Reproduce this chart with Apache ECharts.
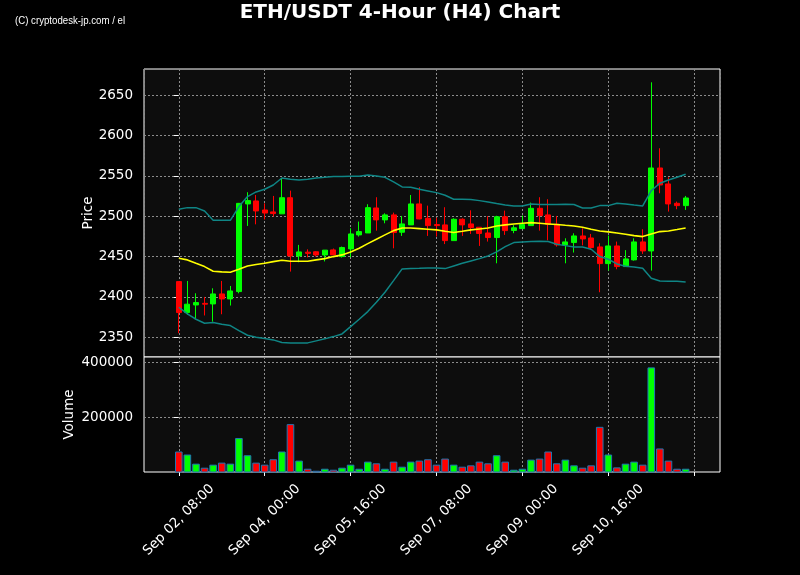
<!DOCTYPE html>
<html>
<head>
<meta charset="utf-8">
<script src="https://cdn.jsdelivr.net/npm/echarts@6/dist/echarts.min.js"></script>
<style>
  html, body { margin: 0; padding: 0; background: #000; }
  #chart { width: 800px; height: 575px; }
</style>
</head>
<body>
<div id="chart"></div>
<script>
// ---- Data (4-hour candles, index 0 = Sep 02 08:00) ----
const openVals = [2419, 2380.6, 2390, 2392, 2391.3, 2403.7, 2397.5, 2406.6, 2515.3, 2519,
  2507.8, 2505.4, 2503, 2523, 2450.8, 2455.5, 2456, 2452, 2458.3, 2450,
  2459.5, 2476.9, 2479.3, 2510.3, 2495.5, 2501.7, 2480.2, 2489.3, 2515.3, 2497.5,
  2489.7, 2489.3, 2469.8, 2496.3, 2490.5, 2486.4, 2479.3, 2473.6, 2499.4, 2482.4,
  2484.7, 2488.4, 2509.9, 2501.7, 2490.1, 2464.5, 2467.4, 2475.6, 2473.1, 2462,
  2441.3, 2463.2, 2437.6, 2445.9, 2468.2, 2457, 2559.9, 2540.1, 2516.1, 2513.2];
const closeVals = [2380.6, 2391, 2393, 2391, 2403.7, 2397.5, 2407.4, 2516, 2519.4, 2506.6,
  2504, 2503.3, 2523, 2450.8, 2455.8, 2454, 2452, 2458, 2452.1, 2461.2,
  2478.1, 2481, 2510.7, 2495.5, 2501.7, 2479.8, 2490.5, 2515.3, 2496.7, 2488.4,
  2488.4, 2469.8, 2496.3, 2489.3, 2486, 2478.7, 2473.6, 2499.4, 2482.2, 2485.7,
  2489.7, 2509.9, 2500.8, 2490.1, 2464.5, 2468.2, 2475.6, 2471.9, 2461.2, 2441.3,
  2463.2, 2437.6, 2447.1, 2468.2, 2457, 2559.9, 2538.8, 2515.3, 2513.2, 2522.7];
const lowVals = [2355, 2377.7, 2372, 2377, 2369.4, 2378.5, 2389.3, 2404.5, 2488, 2490,
  2496, 2499.6, 2503, 2431.4, 2443, 2449, 2450, 2444, 2452, 2448.8,
  2449.2, 2474.8, 2479.3, 2482.2, 2491.3, 2460.3, 2475.6, 2489.3, 2496.3, 2475.6,
  2474.8, 2465.5, 2469.8, 2475.6, 2478.1, 2463.2, 2468.6, 2441.7, 2476.9, 2479,
  2484.3, 2488.4, 2482.2, 2470.2, 2462.4, 2441.7, 2455, 2464, 2458.3, 2405.8,
  2432.6, 2434.3, 2437.6, 2445, 2453.3, 2432.6, 2528.5, 2505.8, 2508.7, 2507.9];
const highVals = [2419, 2419.8, 2404.5, 2400, 2410.7, 2419.8, 2413.6, 2516.5, 2529.8, 2526.4,
  2516, 2525.2, 2547, 2531.8, 2464.5, 2459, 2456.6, 2458, 2460, 2462.4,
  2485.1, 2493.4, 2514.9, 2523.6, 2503.7, 2504.5, 2500.4, 2526.4, 2536, 2513.2,
  2498.3, 2511.2, 2497.5, 2497.5, 2507.4, 2486.4, 2500.2, 2500.6, 2507, 2489,
  2500.9, 2516.9, 2523.6, 2521.1, 2500.4, 2472.7, 2478.9, 2485.1, 2478.1, 2466.5,
  2476, 2468.6, 2458, 2472.7, 2483.9, 2666.1, 2584.3, 2548.3, 2518.2, 2525.2];
const volumeVals = [77800, 66900, 34000, 19500, 30400, 37700, 34000, 126500, 64400, 37700,
  30400, 49900, 77800, 176300, 45000, 15800, 8500, 15800, 12200, 19500,
  30400, 15800, 41300, 35300, 15800, 41300, 23100, 41300, 45000, 49900,
  30400, 52300, 30400, 23100, 28000, 41300, 35300, 64400, 41300, 12200,
  15800, 48600, 52300, 77800, 35300, 48600, 28000, 19500, 28000, 166600,
  66900, 20700, 34000, 41300, 30400, 380600, 88800, 45000, 15800, 15800];
const bbUpper = [2508.7, 2510.7, 2510.7, 2506.6, 2495, 2495, 2495, 2512, 2524.4, 2530.2,
  2533.5, 2538.8, 2547.5, 2545.9, 2545, 2545.9, 2547.5, 2548.3, 2549.2, 2549.2,
  2549.6, 2549.6, 2551.2, 2550, 2548.3, 2542.6, 2536.4, 2536, 2533.5, 2531.4,
  2529.3, 2526, 2521.1, 2521.1, 2520.7, 2519.4, 2517.8, 2515.7, 2514, 2512.8,
  2512.8, 2515.3, 2514.5, 2514.5, 2514.5, 2514.9, 2514.5, 2510.3, 2510.3, 2513.2,
  2513.2, 2516.1, 2515.3, 2514, 2512.8, 2531.8, 2540.9, 2545, 2548.3, 2552.1];
const bbMiddle = [2447.9, 2445.9, 2441.7, 2437.6, 2431.8, 2431, 2430.6, 2434.3, 2438.4, 2440.1,
  2441.7, 2443.8, 2445.5, 2444.2, 2444.2, 2444.2, 2445.9, 2447.5, 2450, 2452.1,
  2455.8, 2460.3, 2466.1, 2471.5, 2476.9, 2482.2, 2485.5, 2485.5, 2484.7, 2483.9,
  2483.1, 2481.4, 2479.8, 2481.4, 2483.1, 2484.3, 2485.5, 2488, 2489.3, 2490.5,
  2491.3, 2492.1, 2491.3, 2490.5, 2489.7, 2488.8, 2488, 2486.4, 2483.9, 2481.8,
  2480.6, 2479.3, 2477.7, 2476, 2474.8, 2478.1, 2481, 2481.8, 2483.5, 2485.5];
const bbLower = [2387.2, 2378.9, 2372.3, 2367.4, 2368.2, 2366.1, 2364.5, 2358.3, 2352.5, 2350,
  2348.3, 2346.7, 2343.4, 2343, 2343, 2343, 2345.5, 2348, 2350.8, 2354.1,
  2363.2, 2372.3, 2381.8, 2393.4, 2405.8, 2420.2, 2434.7, 2435.1, 2435.5, 2436,
  2436, 2435.1, 2438.4, 2441.7, 2444.6, 2447.5, 2450.8, 2455.8, 2462.4, 2467.4,
  2468.2, 2468.6, 2469, 2468.6, 2465.3, 2463.6, 2462, 2462, 2459.1, 2450,
  2446.7, 2440.9, 2438, 2437.2, 2435.5, 2423.1, 2419.8, 2419.4, 2419.4, 2418.6];
const xTickIndex = [0, 10, 20, 30, 40, 50, 60];
const xTickLabels = ['Sep 02, 08:00', 'Sep 04, 00:00', 'Sep 05, 16:00', 'Sep 07, 08:00', 'Sep 09, 00:00', 'Sep 10, 16:00', ''];
const priceTicks = [2350, 2400, 2450, 2500, 2550, 2600, 2650];
const volumeTicks = [200000, 400000];

// ---- Build series data ----
const UP = '#00ff00', DOWN = '#ff0000';
const candleData = openVals.map((o, i) => [i, o, closeVals[i], lowVals[i], highVals[i]]);
const volData = volumeVals.map((v, i) => ({
  value: [i, v],
  itemStyle: { color: closeVals[i] >= openVals[i] ? UP : DOWN }
}));
const lineData = arr => arr.map((v, i) => [i, v]);

const FONT = 'DejaVu Sans';
const gridLine = { show: true, lineStyle: { color: '#8c8c8c', type: [2, 2], width: 1 } };
const xCommon = {
  type: 'value', min: -4.05, max: 63.0, minInterval: 10, maxInterval: 10,
  axisLine: { show: false }, splitLine: gridLine
};
const plain = v => String(Math.round(v));

const chart = echarts.init(document.getElementById('chart'), null, { renderer: 'canvas' });
chart.setOption({
  backgroundColor: '#000',
  animation: false,
  title: [
    { text: 'ETH/USDT 4-Hour (H4) Chart', left: 'center', top: -2,
      textStyle: { color: '#fff', fontSize: 20, fontWeight: 'bold', fontFamily: FONT } }
  ],
  graphic: [
    { type: 'text', x: 15, y: 15, scaleX: 0.84, silent: true,
      style: { text: '(C) cryptodesk-jp.com / el', fill: '#fff',
        font: "11.5px 'Liberation Sans Narrow', 'Liberation Sans', sans-serif" } }
  ],
  grid: [
    { left: 144, width: 576, top: 69, height: 288, show: true, backgroundColor: '#0d0d0d', borderColor: '#fff', borderWidth: 1 },
    { left: 144, width: 576, top: 357, height: 115, show: true, backgroundColor: '#0d0d0d', borderColor: '#fff', borderWidth: 1 }
  ],
  xAxis: [
    Object.assign({}, xCommon, { gridIndex: 0, axisTick: { show: false }, axisLabel: { show: false } }),
    Object.assign({}, xCommon, {
      gridIndex: 1,
      axisTick: { show: true, customValues: xTickIndex, length: 4, lineStyle: { color: '#fff' } },
      axisLabel: {
        customValues: xTickIndex, color: '#fff', fontSize: 13.5, fontFamily: FONT,
        rotate: 45, align: 'center', verticalAlign: 'middle', margin: 48,
        formatter: v => { const k = xTickIndex.indexOf(Math.round(v)); return k >= 0 ? xTickLabels[k] : ''; }
      }
    })
  ],
  yAxis: [
    { type: 'value', gridIndex: 0, min: 2325.5, max: 2682.6, minInterval: 50, maxInterval: 50,
      axisLine: { show: false }, splitLine: gridLine,
      axisTick: { show: true, customValues: priceTicks, length: 5, lineStyle: { color: '#fff' } },
      axisLabel: { customValues: priceTicks, color: '#fff', fontSize: 13.5, fontFamily: FONT, margin: 11, formatter: plain },
      name: 'Price', nameLocation: 'middle', nameGap: 49, nameMoveOverlap: false,
      nameTextStyle: { color: '#fff', fontSize: 13.5, fontFamily: FONT } },
    { type: 'value', gridIndex: 1, min: 4000, max: 418000, minInterval: 200000, maxInterval: 200000,
      axisLine: { show: false }, splitLine: gridLine,
      axisTick: { show: true, customValues: volumeTicks, length: 5, lineStyle: { color: '#fff' } },
      axisLabel: { customValues: volumeTicks, color: '#fff', fontSize: 13.5, fontFamily: FONT, margin: 11, formatter: plain },
      name: 'Volume', nameLocation: 'middle', nameGap: 68, nameMoveOverlap: false,
      nameTextStyle: { color: '#fff', fontSize: 13.5, fontFamily: FONT } }
  ],
  series: [
    { type: 'candlestick', xAxisIndex: 0, yAxisIndex: 0, data: candleData,
      encode: { x: 0, y: [1, 2, 3, 4] }, barWidth: 5.5,
      itemStyle: { color: UP, color0: DOWN, borderColor: UP, borderColor0: DOWN, borderWidth: 1 }, z: 2 },
    { type: 'line', xAxisIndex: 0, yAxisIndex: 0, data: lineData(bbUpper), symbol: 'none',
      lineStyle: { color: '#0f8585', width: 1.5 }, z: 3 },
    { type: 'line', xAxisIndex: 0, yAxisIndex: 0, data: lineData(bbLower), symbol: 'none',
      lineStyle: { color: '#0f8585', width: 1.5 }, z: 3 },
    { type: 'line', xAxisIndex: 0, yAxisIndex: 0, data: lineData(bbMiddle), symbol: 'none',
      lineStyle: { color: '#ffff00', width: 1.6 }, z: 3 },
    { type: 'bar', xAxisIndex: 1, yAxisIndex: 1, data: volData, barWidth: 7.6,
      itemStyle: { borderColor: '#1f77b4', borderWidth: 1 } }
  ]
});
</script>
</body>
</html>
